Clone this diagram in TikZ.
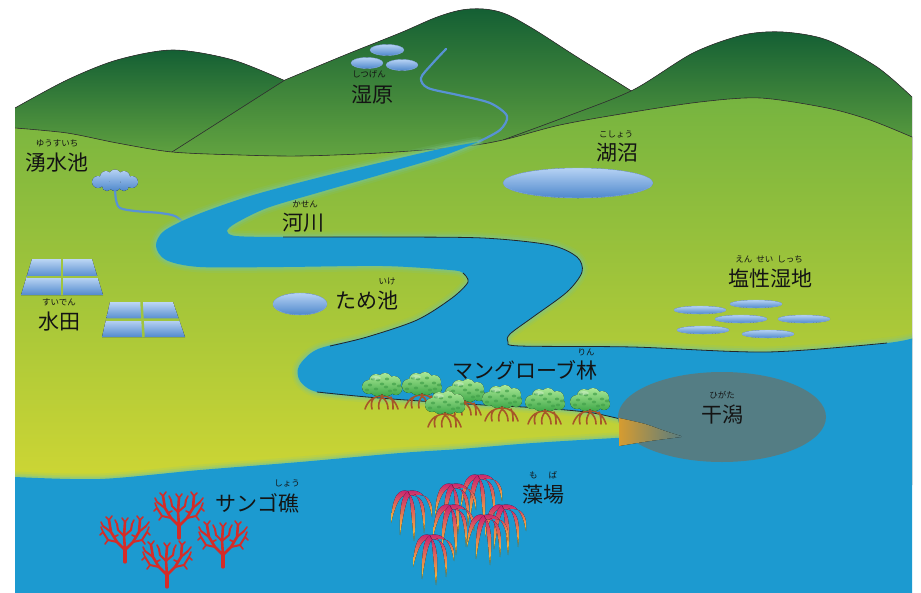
\documentclass[tikz,border=0pt]{standalone}
\usepackage{fontspec}
\setmainfont{Noto Sans CJK JP}
\definecolor{hilltop}{RGB}{20,95,52}
\definecolor{hillbot}{RGB}{100,165,64}
\definecolor{groundtop}{RGB}{118,180,64}
\definecolor{groundbot}{RGB}{206,214,52}
\definecolor{sea}{RGB}{28,154,208}
\definecolor{glowc}{RGB}{120,196,150}
\definecolor{pondlight}{RGB}{182,210,244}
\definecolor{ponddark}{RGB}{78,136,204}
\definecolor{pondrim}{RGB}{140,180,230}
\definecolor{streamc}{RGB}{88,146,212}
\definecolor{padtop}{RGB}{188,214,244}
\definecolor{padbot}{RGB}{82,138,206}
\definecolor{gapgreen}{RGB}{160,196,62}
\definecolor{flatc}{RGB}{88,124,128}
\definecolor{flatorange}{RGB}{214,156,48}
\definecolor{coralc}{RGB}{212,44,40}
\definecolor{rootc}{RGB}{166,86,40}
\definecolor{leaflight}{RGB}{170,232,150}
\definecolor{leafdark}{RGB}{62,168,72}
\definecolor{leafspot}{RGB}{66,160,74}
\definecolor{weedtop}{RGB}{200,30,116}
\definecolor{weedmid}{RGB}{232,100,72}
\definecolor{weedbot}{RGB}{250,206,50}
\definecolor{labeltext}{RGB}{20,20,20}
\tikzset{
  mangrove/.pic={
    \draw[rootc, line width=1.6pt, line cap=round]
      (0,6) -- (0,13)
      (0,11) .. controls (-8,11) and (-14,15) .. (-17,24)
      (-8,13) .. controls (-11,16) and (-11,20) .. (-10,24)
      (0,12) .. controls (-3,16) and (-4,20) .. (-3,24)
      (0,12) .. controls (4,15) and (6,19) .. (6,24)
      (0,11) .. controls (8,11) and (13,15) .. (16,24)
      (9,12) .. controls (11,16) and (11,20) .. (11,24);
    \fill[top color=leaflight, bottom color=leafdark]
      (-13,2) circle (7) (-6,-4) circle (7) (3,-5) circle (7) (12,-2) circle (7)
      (14,4) circle (6) (5,4) circle (7) (-5,4) circle (7);
    \foreach \sx/\sy in {-12/0,-4/-5,5/-6,12/-1,-6/4,4/2,13/5,-15/5,0/-1,8/6,-9/-6,17/1}
      \fill[leafspot, opacity=.7] (\sx,\sy) ellipse (2.2 and 1.4);
    \fill[white, opacity=.3] (-6,-7) ellipse (5 and 2);
  },
  coralbush/.pic={
    \draw[coralc, line width=3.2pt, line cap=round] (0,0) -- (0,-12);
    \draw[coralc, line width=2.6pt, line cap=round, line join=round]
      (0,-12) -- (-8,-20) -- (-14,-30) -- (-16,-42)
      (0,-12) -- (8,-20) -- (14,-30) -- (15,-42)
      (0,-12) -- (-1,-26) -- (0,-40);
    \draw[coralc, line width=2pt, line cap=round, line join=round]
      (-8,-20) -- (-17,-22) -- (-22,-30)
      (8,-20) -- (17,-22) -- (22,-30)
      (-14,-30) -- (-22,-36)
      (14,-30) -- (21,-36)
      (-1,-26) -- (-7,-32) -- (-8,-38)
      (-1,-26) -- (6,-32) -- (7,-38);
    \draw[coralc, line width=1.6pt, line cap=round]
      (-22,-30) -- (-25,-27) (-22,-30) -- (-24,-35)
      (22,-30) -- (25,-27) (22,-30) -- (24,-35)
      (-22,-36) -- (-24,-40) (21,-36) -- (24,-40)
      (-16,-42) -- (-19,-45) (-16,-42) -- (-13,-46)
      (15,-42) -- (12,-46) (15,-42) -- (18,-45)
      (0,-40) -- (-3,-44) (0,-40) -- (3,-44)
      (-8,-38) -- (-10,-42) (7,-38) -- (9,-42)
      (-17,-22) -- (-20,-18) (17,-22) -- (20,-18)
      (-11,-25) -- (-7,-27) (11,-25) -- (7,-27);
  },
  weedclump/.pic={
    \foreach \a/\b/\c/\d/\e/\f in {-8/-2/-16/2/-17/32, -4/2/-9/10/-8/44, 2/4/3/20/6/50, 7/0/14/6/16/42, 10/-2/20/2/24/26}
      \fill[top color=weedtop, middle color=weedmid, bottom color=weedbot]
        (0,0) .. controls (\a,\b) and (\c,\d) .. (\e,\f)
        .. controls (\c+6,\d+1) and (\a+4,\b+5) .. (2,4) -- cycle;
  }
}
\begin{document}
\begin{tikzpicture}[x=1pt,y=-1pt,
  edge/.style={draw=black!80, line width=0.6pt},
  bank/.style={draw=black!85, line width=0.8pt},
  pondfill/.style={top color=pondlight, bottom color=ponddark, draw=pondrim, line width=0.4pt},
  lbl/.style={inner sep=0pt, font=\fontsize{21}{24}\selectfont, text=labeltext},
  ruby/.style={inner sep=0pt, font=\fontsize{8.5}{10}\selectfont, text=labeltext}]
\useasboundingbox (0,0) rectangle (921,592);
\fill[white] (0,0) rectangle (921,592);
\begin{scope}
\clip (15,0) rectangle (912,592);
% hills
\fill[top color=hilltop, bottom color=hillbot] (15,160) -- plot[smooth] coordinates {(15,108) (67,80) (117,60) (173,50) (233,60) (290,83)} -- (290,160) -- cycle;
\draw[edge] plot[smooth] coordinates {(15,108) (67,80) (117,60) (173,50) (233,60) (290,83)};
\fill[top color=hilltop, bottom color=hillbot] (172,160) -- (172,152) -- (285,80) -- plot[smooth, tension=.6] coordinates {(285,80) (345,55) (400,33) (440,16) (470,9) (500,12) (530,27) (577,57) (633,92) (680,125)} -- (680,160) -- cycle;
\draw[edge] (172,152) -- (285,80) -- plot[smooth, tension=.6] coordinates {(285,80) (345,55) (400,33) (440,16) (470,9) (500,12) (530,27) (577,57) (633,92)};
\fill[top color=hilltop, bottom color=hillbot] (503,160) -- plot[smooth] coordinates {(503,140) (568,116) (633,90) (693,53) (743,35) (783,32) (827,40) (877,67) (912,97)} -- (912,160) -- cycle;
\draw[edge] plot[smooth] coordinates {(503,140) (568,116) (633,90) (693,53) (743,35) (783,32) (827,40) (877,67) (912,97)};
% lowland
\fill[top color=groundtop, bottom color=groundbot] (15,485) -- plot[smooth] coordinates {(15,128) (67,133) (117,143) (172,152) (240,155) (300,156) (380,153) (460,147) (503,140) (560,125) (627,113) (700,102) (760,98) (827,108) (870,120) (912,137)} -- (912,485) -- cycle;
\draw[edge] plot[smooth] coordinates {(15,128) (67,133) (117,143) (172,152) (240,155) (300,156) (380,153) (460,147) (503,140) (560,125) (627,113) (700,102) (760,98) (827,108) (870,120) (912,137)};
% marsh stream and ponds
\draw[streamc, line width=2.2pt, line cap=round] plot[smooth] coordinates {(446,49) (432,64) (421,78) (428,88) (458,95) (490,103) (507,116) (500,130) (478,142)};
\fill[pondfill] (387,50) ellipse (17 and 5.5);
\fill[pondfill] (367,63) ellipse (16 and 5.5);
\fill[pondfill] (402,65) ellipse (16 and 5.5);
% spring pond and its stream
\draw[streamc, line width=2.2pt, line cap=round] plot[smooth] coordinates {(115,188) (116,200) (120,208) (135,211) (160,213) (175,216) (184,223)};
\fill[top color=pondlight, bottom color=ponddark] (98,182) circle (6) (106,177) circle (6) (115,175.5) circle (6) (124,177) circle (6) (132,182) circle (6) (124,186) circle (5) (107,186) circle (5) (115,185) circle (6);
% river and sea
\def\waterpath{(15,600) -- (15,477)
 -- plot[smooth] coordinates {(15,477) (100,479) (200,470) (300,462) (400,453) (460,449) (533,443) (633,437) (681,435)}
 -- plot[smooth] coordinates {(681,435) (640,424) (593,413) (540,408) (483,405) (420,401) (367,397) (317,392) (300,381) (299,366) (318,349) (367,337) (417,320) (452,298) (468,282) (463,273) (450,270) (383,266) (283,267) (200,267) (166,260) (156,246) (164,231) (196,215) (250,196) (317,178) (383,162) (440,149) (478,142)}
 -- plot[smooth] coordinates {(478,142) (440,157) (383,174) (317,193) (267,208) (236,223) (227,231) (236,236) (283,237) (383,237) (483,238) (550,245) (577,257) (582,272) (567,292) (533,317) (510,334) (508,342) (520,346) (633,347) (767,352) (887,343) (920,336)}
 -- (920,600) -- cycle}
\draw[glowc, line width=11pt, opacity=.15, line join=round] \waterpath;
\draw[glowc, line width=7pt, opacity=.25, line join=round] \waterpath;
\draw[glowc, line width=3.5pt, opacity=.45, line join=round] \waterpath;
\fill[sea] \waterpath;
\draw[bank] plot[smooth] coordinates {(283,237) (383,237) (483,238) (550,245) (577,257) (582,272) (567,292) (533,317) (510,334) (508,342) (520,346) (633,347) (767,352) (887,343)};
\draw[bank] plot[smooth] coordinates {(463,273) (468,282) (452,298) (417,320) (367,337) (330,346)};
\draw[bank] plot[smooth] coordinates {(317,392) (367,397) (420,401) (483,405) (540,408) (593,413) (640,424)};
% lake, pond and salt-marsh pools
\fill[pondfill] (578,183) ellipse (75 and 15);
\fill[pondfill] (300,304) ellipse (27 and 11);
\foreach \px/\py in {700/310, 756/304, 741/319, 804/319, 703/330, 768/334}
  \fill[pondfill] (\px,\py) ellipse (26 and 4);
% paddy fields
\fill[top color=padtop, bottom color=padbot] (32,259) -- (92,259) -- (97.5,277) -- (26.5,277) -- cycle;
\fill[top color=padtop, bottom color=padbot] (26.5,277) -- (97.5,277) -- (103,295) -- (21,295) -- cycle;
\draw[gapgreen, line width=2.5pt] (26.5,277) -- (97.5,277) (62,259) -- (62,295);
\fill[top color=padtop, bottom color=padbot] (110,302) -- (173,302) -- (179,319.5) -- (106,319.5) -- cycle;
\fill[top color=padtop, bottom color=padbot] (106,319.5) -- (179,319.5) -- (185,337) -- (102,337) -- cycle;
\draw[gapgreen, line width=2.5pt] (106,319.5) -- (179,319.5) (141.5,302) -- (143.5,337);
% tidal flat
\fill[flatc, opacity=.95] (722,417) ellipse (104 and 45);
\fill[left color=flatorange, right color=flatc] plot[smooth] coordinates {(619,418) (645,424) (665,431) (681,436)} -- plot[smooth] coordinates {(681,437) (650,441) (619,446)} -- cycle;
% mangroves
\foreach \tx/\ty in {382/385, 422/384, 465/391, 502/397, 545/400, 590/400, 445/403}
  \pic at (\tx,\ty) {mangrove};
% corals
\foreach \cx/\cy in {179/538, 125/562, 223/567, 167/587}
  \pic at (\cx,\cy) {coralbush};
% seaweed
\foreach \wx/\wy in {478/475, 452/484, 408/491, 502/505, 450/505, 484/515, 430/535}
  \pic at (\wx,\wy) {weedclump};
\end{scope}
% labels
\node[lbl] (shitsugen) at (372,95) {湿原};
\node[ruby] (shitsugen-r) at (369,74) {しつげん};
\node[lbl] (yusuichi) at (57,163) {湧水池};
\node[ruby] (yusuichi-r) at (57,143) {ゆうすいち};
\node[lbl] (kosho) at (617,153) {湖沼};
\node[ruby] (kosho-r) at (616,134) {こしょう};
\node[lbl] (kasen) at (303,223) {河川};
\node[ruby] (kasen-r) at (305,204) {かせん};
\node[lbl] (tameike) at (367,300) {ため池};
\node[ruby] (tameike-r) at (387,281) {いけ};
\node[lbl] (suiden) at (59,322) {水田};
\node[ruby] (suiden-r) at (59,302) {すいでん};
\node[lbl] (ensei) at (770,278) {塩性湿地};
\node[ruby] (ensei-r) at (769,259) {えん\hspace{4pt}せい\hspace{4pt}しっち};
\node[lbl] (mangrove-l) at (525,370) {マングローブ林};
\node[ruby] (mangrove-r) at (586,352) {りん};
\node[lbl] (higata) at (722,415) {干潟};
\node[ruby] (higata-r) at (722,395) {ひがた};
\node[lbl] (sango) at (257,503) {サンゴ礁};
\node[ruby] (sango-r) at (287,483) {しょう};
\node[lbl] (moba) at (543,495) {藻場};
\node[ruby] (moba-r) at (543,475) {も\hspace{11pt}ば};
\end{tikzpicture}
\end{document}
